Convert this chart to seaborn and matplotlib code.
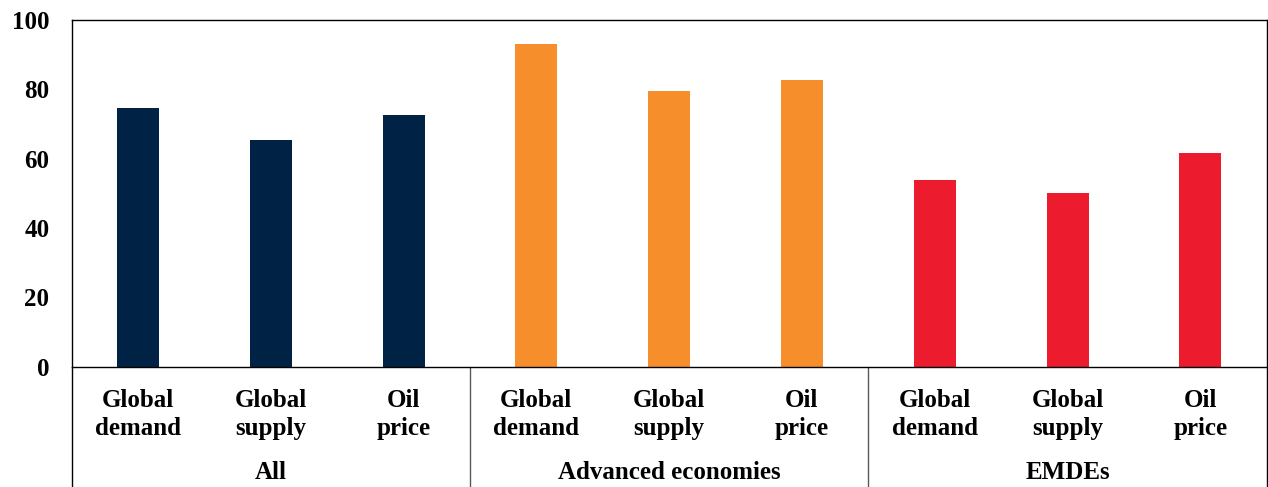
import matplotlib
matplotlib.use("Agg")
import matplotlib.pyplot as plt
import seaborn as sns
import pandas as pd

# --- data ---
groups = ["All", "Advanced economies", "EMDEs"]
shocks = ["Global\ndemand", "Global\nsupply", "Oil\nprice"]
all_vals = [74.5, 65.5, 72.5]
ae_vals = [93.1, 79.4, 82.7]
emde_vals = [53.8, 50.1, 61.5]
colors = ["#002345", "#F68E2B", "#EC1C2E"]

rows = []
for g, vals in zip(groups, [all_vals, ae_vals, emde_vals]):
    for s, v in zip(shocks, vals):
        rows.append({"group": g, "shock": s, "key": g + "|" + s, "value": v})
df = pd.DataFrame(rows)

sns.set_style("white")
plt.rcParams["font.family"] = ["Liberation Serif", "DejaVu Serif"]
plt.rcParams["font.weight"] = "bold"
plt.rcParams["text.color"] = "black"
plt.rcParams["xtick.color"] = "black"
plt.rcParams["ytick.color"] = "black"

fig, ax = plt.subplots(figsize=(12.68, 4.87), dpi=100)
fig.subplots_adjust(left=0.0564, right=0.999, top=0.959, bottom=0.247)

sns.barplot(data=df, x="key", y="value", hue="group", palette=colors,
            saturation=1, dodge=False, width=0.316, linewidth=0,
            legend=False, ax=ax)

ax.set_ylim(0, 100)
ax.set_yticks(range(0, 101, 20))
ax.set_xlim(-0.5, len(df) - 0.5)
ax.set_xlabel("")
ax.set_ylabel("")
ax.set_xticks(range(len(df)))
ax.set_xticklabels(df["shock"], fontsize=18, fontweight="bold", linespacing=1.3)
ax.tick_params(axis="y", length=0, pad=16, labelsize=18)
ax.tick_params(axis="x", length=0, pad=16)

for sp in ax.spines.values():
    sp.set_visible(True)
    sp.set_color("black")
    sp.set_linewidth(1.0)

# group labels and separators below the axis
trans = ax.get_xaxis_transform()
for i, g in enumerate(groups):
    ax.text(i * 3 + 1, -0.324, g, transform=trans, ha="center", va="baseline",
            fontsize=18, fontweight="bold")
for xb in [-0.5, 2.5, 5.5, 8.5]:
    c = "black" if xb in (-0.5, 8.5) else "#595959"
    ax.plot([xb, xb], [0, -0.4], transform=trans, color=c, lw=1.0, clip_on=False)

fig.savefig("out.png", dpi=100)
